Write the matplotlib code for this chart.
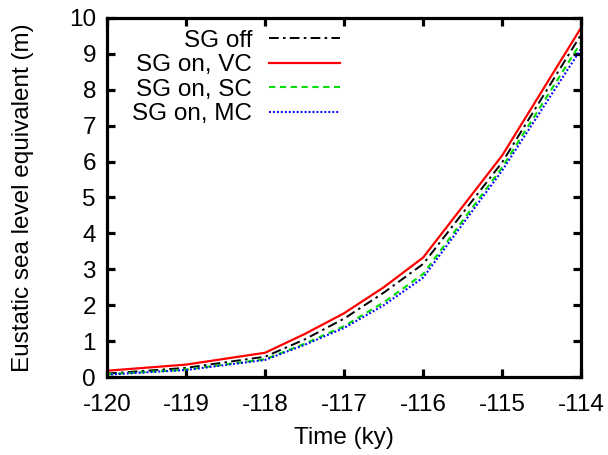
import numpy as np
import matplotlib
matplotlib.use('Agg')
import matplotlib.pyplot as plt

plt.rcParams['font.family'] = ['Liberation Sans', 'DejaVu Sans']
plt.rcParams['axes.unicode_minus'] = False

# time axis (ky)
time = [-120, -119, -118, -117.5, -117, -116.5, -116, -115, -114]

# eustatic sea level equivalent (m)
sg_off = [0.10, 0.26, 0.57, 1.05, 1.63, 2.35, 3.15, 5.98, 9.54]
sg_vc = [0.18, 0.35, 0.68, 1.20, 1.78, 2.50, 3.33, 6.17, 9.73]
sg_sc = [0.08, 0.21, 0.50, 0.93, 1.42, 2.08, 2.87, 5.84, 9.32]
sg_mc = [0.07, 0.20, 0.48, 0.90, 1.37, 2.00, 2.77, 5.75, 9.14]

labels = ['SG off', 'SG on, VC', 'SG on, SC', 'SG on, MC']

fs = 17.5
fig = plt.figure(figsize=(6.08, 4.55), dpi=100)
ax = fig.add_axes([0.176, 0.171, 0.780, 0.790])

ax.plot(time, sg_off, color='black', lw=1.4, dashes=(5, 2.2, 1.3, 2.2), label=labels[0])
ax.plot(time, sg_vc, color='#ff0000', lw=1.6, label=labels[1])
ax.plot(time, sg_sc, color='#00dd00', lw=1.5, dashes=(3, 2.2), label=labels[2])
ax.plot(time, sg_mc, color='#0000ff', lw=1.5, dashes=(0.9, 1.0), label=labels[3])

ax.set_xlim(-120, -114)
ax.set_ylim(0, 10)
ax.set_xticks(np.arange(-120, -113, 1))
ax.set_yticks(np.arange(0, 11, 1))

for s in ax.spines.values():
    s.set_linewidth(2.3)
ax.tick_params(direction='in', length=6, width=2.3, top=True, right=True,
               labelsize=fs)
ax.tick_params(axis='x', pad=12)
ax.tick_params(axis='y', pad=8)

ax.set_xlabel('Time (ky)', fontsize=fs, labelpad=8)
ax.set_ylabel('Eustatic sea level equivalent (m)', fontsize=fs, labelpad=25)

leg = ax.legend(loc='upper left', bbox_to_anchor=(0.022, 1.007), frameon=False,
                markerfirst=False, fontsize=fs, handlelength=2.9,
                handletextpad=0.7, labelspacing=0.1, borderaxespad=0.2)
for t in leg.get_texts():
    t.set_ha('right')

fig.savefig('out.png', dpi=100)
